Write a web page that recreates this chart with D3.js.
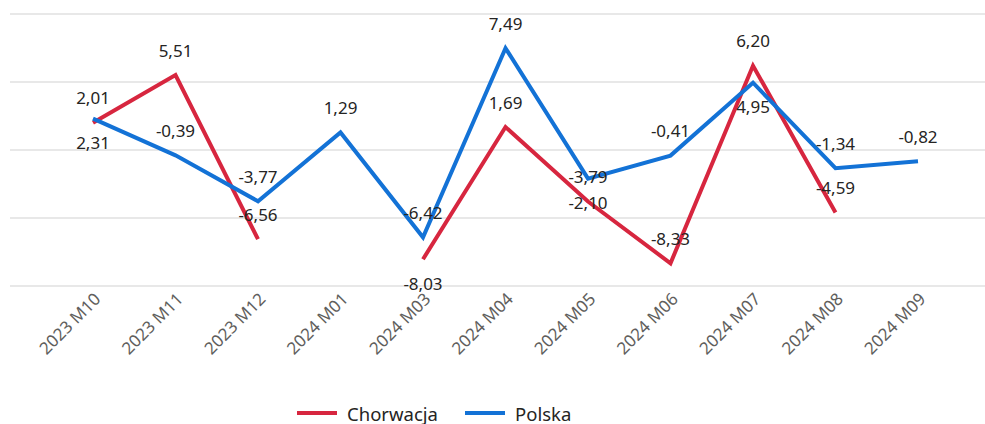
<!DOCTYPE html>
<html>
<head>
<meta charset="utf-8">
<script src="https://cdn.jsdelivr.net/npm/d3@7"></script>
<style>
  body { margin: 0; background: #fff; }
  #chart { font-family: 'Noto Sans', 'Open Sans', sans-serif; }
</style>
</head>
<body>
<div id="chart"></div>
<script>
  const months = ['2023 M10', '2023 M11', '2023 M12', '2024 M01', '2024 M03', '2024 M04',
    '2024 M05', '2024 M06', '2024 M07', '2024 M08', '2024 M09']
  const chorwacja = [2.01, 5.51, -6.56, null, -8.03, 1.69, -3.79, -8.33, 6.20, -4.59, null]
  const polska = [2.31, -0.39, -3.77, 1.29, -6.42, 7.49, -2.10, -0.41, 4.95, -1.34, -0.82]
  const gridTicks = [-10, -5, 0, 5, 10]

  const series = [
    { name: 'Chorwacja', values: chorwacja, color: '#d7263f' },
    { name: 'Polska', values: polska, color: '#1372d6' }
  ]

  // labels that sit under their point instead of over it
  const labelsBelow = {
    Chorwacja: ['2024 M03'],
    Polska: ['2023 M10', '2024 M05', '2024 M07']
  }

  let width = 985,
    height = 424

  let svg = d3.select('#chart')
    .append('svg')
    .attr('width', width)
    .attr('height', height)

  let x = d3.scalePoint().domain(months).range([93, 918])
  let y = d3.scaleLinear().domain([-10, 10]).range([286, 14])

  let fmt = v => d3.format('.2f')(v).replace('.', ',').replace('\u2212', '-')

  // grid
  svg.append('g')
    .selectAll('line')
    .data(gridTicks)
    .enter()
    .append('line')
    .attr('x1', 10)
    .attr('x2', width)
    .attr('y1', d => y(d))
    .attr('y2', d => y(d))
    .attr('stroke', '#e1e1e1')
    .attr('stroke-width', 1.5)

  // x axis labels
  let xAxis = svg.append('g')
    .attr('transform', `translate(0,${y(-10) + 8})`)
    .call(d3.axisBottom(x).tickSize(0).tickPadding(0))
  xAxis.select('.domain').remove()
  xAxis.selectAll('text')
    .attr('fill', '#605e5c')
    .style('font-size', '17px')
    .style('font-family', "'Noto Sans', 'Open Sans', sans-serif")
    .attr('text-anchor', 'end')
    .attr('dy', '0.35em')
    .attr('transform', 'translate(4,2) rotate(-45)')

  let line = d3.line()
    .defined(d => d != null)
    .x((d, i) => x(months[i]))
    .y(d => y(d))

  series.forEach(s => {
    svg.append('path')
      .datum(s.values)
      .attr('fill', 'none')
      .attr('stroke', s.color)
      .attr('stroke-width', 4)
      .attr('stroke-linejoin', 'miter')
      .attr('d', line)
  })

  // data labels
  series.forEach(s => {
    let pts = s.values.map((v, i) => ({ v: v, m: months[i] })).filter(d => d.v != null)
    svg.append('g')
      .selectAll('text')
      .data(pts)
      .enter()
      .append('text')
      .attr('x', d => x(d.m))
      .attr('y', d => labelsBelow[s.name].includes(d.m) ? y(d.v) + 24 : y(d.v) - 25)
      .attr('text-anchor', 'middle')
      .attr('dominant-baseline', 'central')
      .attr('fill', '#252423')
      .style('font-size', '17px')
      .text(d => fmt(d.v))
  })

  // legend
  let legendX = [297, 465]
  let legend = svg.append('g')
    .selectAll('g')
    .data(series)
    .enter()
    .append('g')
    .attr('transform', (d, i) => `translate(${legendX[i]},413)`)
  legend.append('line')
    .attr('x1', 0)
    .attr('x2', 40)
    .attr('stroke', d => d.color)
    .attr('stroke-width', 4)
  legend.append('text')
    .attr('x', 50)
    .attr('dominant-baseline', 'central')
    .attr('fill', '#252423')
    .style('font-size', '18.5px')
    .text(d => d.name)
</script>
</body>
</html>
